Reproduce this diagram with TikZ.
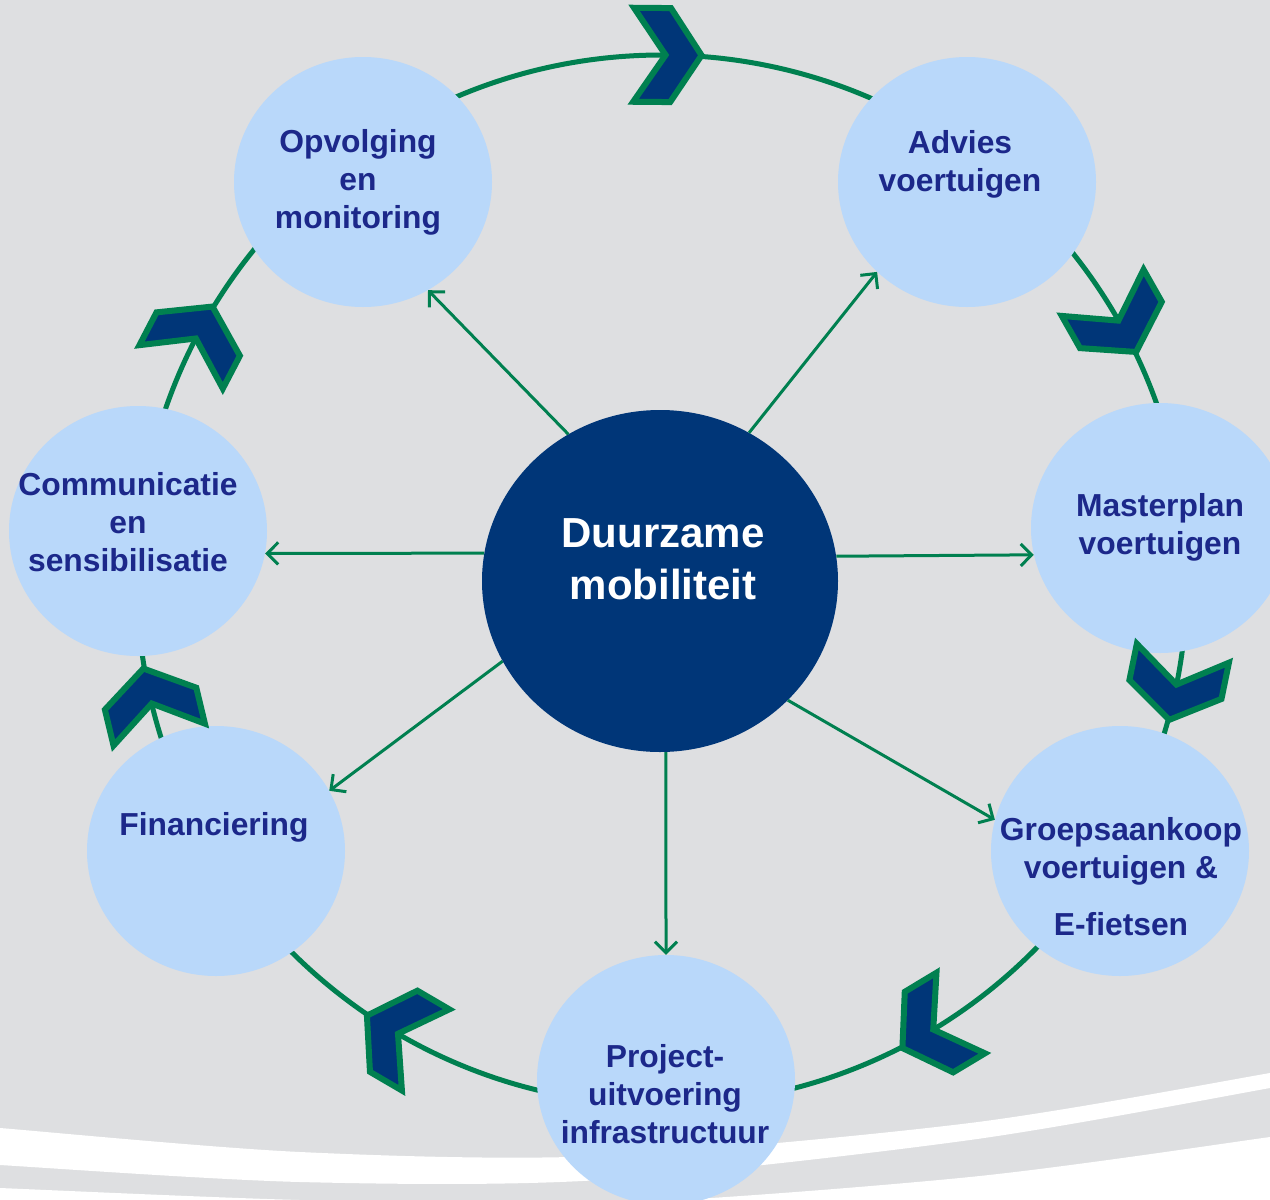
\documentclass[tikz,border=0pt]{standalone}
\usepackage{fontspec}
\setmainfont{Liberation Sans}
\usetikzlibrary{shapes.geometric,arrows.meta,calc}
\definecolor{bg}{RGB}{222,223,225}
\definecolor{lblue}{RGB}{185,216,250}
\definecolor{navy}{RGB}{0,54,120}
\definecolor{tblue}{RGB}{28,40,138}
\definecolor{grn}{RGB}{0,128,80}
\begin{document}
\begin{tikzpicture}[x=1pt,y=1pt,
  sat/.style={ellipse, fill=lblue, minimum width=258pt, minimum height=250pt, inner sep=0pt},
  hub/.style={ellipse, fill=navy, minimum width=356pt, minimum height=342pt, inner sep=0pt},
  lbl/.style={text=tblue, font=\fontsize{31.8}{38}\selectfont\bfseries, align=center, inner sep=0pt},
  hublbl/.style={text=white, font=\fontsize{42}{52}\selectfont\bfseries, align=center, inner sep=0pt},
  spoke/.style={draw=grn, line width=3pt, -{Straight Barb[length=11pt,width=22pt,line width=3pt]}},
  ring/.style={draw=grn, line width=5pt},
  chev/.style={fill=navy, draw=grn, line width=6pt, line join=miter},
]
\useasboundingbox (0,0) rectangle (1270,-1200);
\begin{scope}
\clip (0,0) rectangle (1270,-1200);
\fill[bg] (0,0) rectangle (1270,-1200);
\fill[white] plot[smooth] coordinates {(-20,-1126) (0,-1128) (300,-1152) (600,-1156) (970,-1123) (1270,-1073) (1290,-1068)}
  -- plot[smooth] coordinates {(1290,-1083) (1270,-1088) (970,-1140) (600,-1180) (300,-1182) (0,-1165) (-20,-1163)} -- cycle;
\fill[white] plot[smooth] coordinates {(-20,-1187) (0,-1188) (300,-1200) (600,-1204) (970,-1177) (1270,-1137) (1290,-1133)}
  -- (1290,-1250) -- (-20,-1250) -- cycle;
\end{scope}

\coordinate (rc) at (662,-580);
\draw[ring] (rc) circle[radius=525];

\node[hub] (dm) at (660,-581) {};
\node[hublbl] (dmt) at (663,-559) {Duurzame\\mobiliteit};

\node[sat] (opv) at (363,-182) {};
\node[sat] (adv) at (967,-182) {};
\node[sat] (mas) at (1160,-528) {};
\node[sat] (grp) at (1120,-851) {};
\node[sat] (prj) at (666,-1080) {};
\node[sat] (fin) at (216,-851) {};
\node[sat] (com) at (138,-531) {};

\node[lbl] (opvt) at (358,-182) {Opvolging\\en\\monitoring};
\node[lbl] (advt) at (960,-164) {Advies\\voertuigen};
\node[lbl] (mast) at (1160,-527) {Masterplan\\voertuigen};
\node[lbl] (grpt) at (1121,-877) {Groepsaankoop\\voertuigen \&\\[19pt]E-fietsen};
\node[lbl] (prjt) at (665,-1094) {Project-\\uitvoering\\infrastructuur};
\node[lbl] (fint) at (214,-827) {Financiering};
\node[lbl] (comt) at (128,-522) {Communicatie\\en\\sensibilisatie};

\draw[spoke] (dm.122) -- (opv.-59);
\draw[spoke] (dm.59.5) -- (adv.-135.6);
\draw[spoke] (dm.8.3) -- (mas.-168.3);
\draw[spoke] (dm.-43) -- (grp.166);
\draw[spoke] (dm.-88) -- (prj.90);
\draw[spoke] (dm.-153.7) -- (fin.28.1);
\draw[spoke] (dm.171.7) -- (com.-10.3);

\foreach \t in {89.5,29.5,-11.6,-59,-120.3,-166.5,152.5}{
  \begin{scope}[shift={($(rc)+(\t:525)$)}, rotate=\t-90]
    \draw[chev] (-33,47) -- (4,47) -- (35,0) -- (4,-47) -- (-33,-47) -- (-1,0) -- cycle;
  \end{scope}
}
\end{tikzpicture}
\end{document}
